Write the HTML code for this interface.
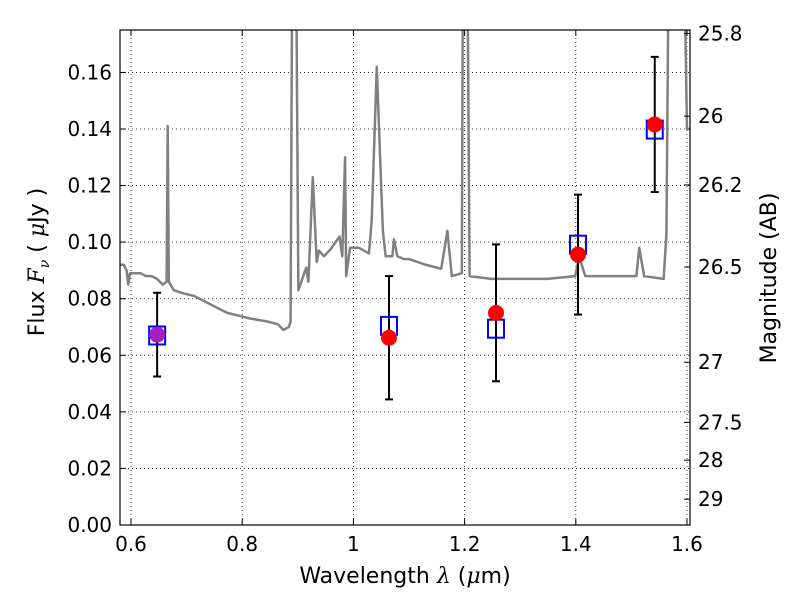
<!DOCTYPE html>
<html><head><meta charset="utf-8"><style>
body{margin:0;background:#fff;font-family:"DejaVu Sans","Liberation Sans",sans-serif}
svg text{font-family:"DejaVu Sans","Liberation Sans",sans-serif;fill:#000}
</style></head><body>
<svg id="c" width="800" height="600" xmlns="http://www.w3.org/2000/svg"></svg>
<script>
const specLam=[0.580,0.587,0.592,0.595,0.598,0.607,0.617,0.627,0.637,0.647,0.657,0.664,0.666,0.668,0.677,0.692,0.713,0.733,0.753,0.773,0.794,0.814,0.844,0.864,0.874,0.884,0.887,0.890,0.897,0.901,0.915,0.919,0.927,0.934,0.938,0.947,0.952,0.961,0.975,0.980,0.985,0.987,0.994,1.010,1.028,1.033,1.042,1.053,1.058,1.070,1.073,1.079,1.091,1.100,1.130,1.158,1.169,1.177,1.195,1.197,1.200,1.205,1.209,1.248,1.298,1.349,1.399,1.404,1.409,1.417,1.460,1.509,1.514,1.523,1.558,1.563,1.567,1.595,1.600,1.605];
const specFlux=[0.092,0.092,0.090,0.085,0.089,0.089,0.089,0.088,0.088,0.087,0.085,0.086,0.141,0.086,0.083,0.082,0.081,0.079,0.077,0.075,0.074,0.073,0.072,0.071,0.069,0.070,0.072,0.2,0.2,0.083,0.091,0.086,0.123,0.093,0.097,0.095,0.096,0.098,0.102,0.095,0.130,0.088,0.098,0.098,0.096,0.108,0.162,0.104,0.095,0.095,0.101,0.095,0.094,0.094,0.092,0.0906,0.104,0.088,0.089,0.2,0.2,0.2,0.088,0.087,0.087,0.087,0.088,0.093,0.093,0.088,0.088,0.088,0.098,0.088,0.087,0.103,0.2,0.2,0.140,0.140];
const obsLam=[0.647,1.064,1.2565,1.404,1.542];
const obsFlux=[0.0673,0.0662,0.075,0.0956,0.1416];
const obsErr=[0.0148,0.0218,0.0242,0.0212,0.0239];
const modFlux=[0.067,0.0704,0.0694,0.0991,0.1398];
const xTicks=[0.6,0.8,1.0,1.2,1.4,1.6];
const xTickLabels=["0.6","0.8","1","1.2","1.4","1.6"];
const yTicks=[0,0.02,0.04,0.06,0.08,0.10,0.12,0.14,0.16];
const yTickLabels=["0.00","0.02","0.04","0.06","0.08","0.10","0.12","0.14","0.16"];
const magTicks=[25.8,26,26.2,26.5,27,27.5,28,29];
const magTickLabels=["25.8","26","26.2","26.5","27","27.5","28","29"];

const L=120,R=690,T=30,B=525,x0=0.5802,x1=1.6054,y0=0,y1=0.175;
const X=v=>L+(v-x0)/(x1-x0)*(R-L);
const Y=v=>B-(v-y0)/(y1-y0)*(B-T);
const svg=document.getElementById('c');
const NS='http://www.w3.org/2000/svg';
function el(t,a,p){const e=document.createElementNS(NS,t);for(const k in a)e.setAttribute(k,a[k]);(p||svg).appendChild(e);return e;}
const defs=el('defs',{});const cp=el('clipPath',{id:'clip'},defs);el('rect',{x:L,y:T,width:R-L,height:B-T},cp);

xTicks.forEach(v=>{const g=el('line',{x1:X(v),x2:X(v),y1:T,y2:B,stroke:'#000','stroke-width':0.8,'stroke-dasharray':'1,3'});

});
yTicks.forEach(v=>{const g=el('line',{x1:L,x2:R,y1:Y(v),y2:Y(v),stroke:'#000','stroke-width':0.8,'stroke-dasharray':'1,3'});

});

const sp=el('polyline',{points:specLam.map((l,i)=>X(l)+','+Y(specFlux[i])).join(' '),fill:'none',stroke:'#808080','stroke-width':2.5,'clip-path':'url(#clip)','stroke-linejoin':'round'});



obsLam.forEach((l,i)=>{const g=el('g',{stroke:'#000','stroke-width':2});


const a=Y(obsFlux[i]+obsErr[i]),b=Y(obsFlux[i]-obsErr[i]),x=X(l);
el('line',{x1:x,x2:x,y1:a,y2:b},g);el('line',{x1:x-4,x2:x+4,y1:a,y2:a},g);el('line',{x1:x-4,x2:x+4,y1:b,y2:b},g);});
obsLam.forEach((l,i)=>{const s=el('rect',{x:X(l)-8,y:Y(modFlux[i])-9,width:16,height:18,fill:'none',stroke:'#0000ff','stroke-width':2});

});
obsLam.forEach((l,i)=>{const c=el('circle',{cx:X(l),cy:Y(obsFlux[i]),r:8,fill:i==0?'#a020c0':'#ff0000'});

});

const fr=el('rect',{x:L,y:T,width:R-L,height:B-T,fill:'none',stroke:'#000','stroke-width':1.2});



xTicks.forEach((v,i)=>{el('line',{x1:X(v),x2:X(v),y1:B,y2:B-6,stroke:'#000'});el('line',{x1:X(v),x2:X(v),y1:T,y2:T+6,stroke:'#000'});
const t=el('text',{x:X(v),y:B+26,'font-size':20,'text-anchor':'middle'});t.textContent=xTickLabels[i];

});
yTicks.forEach((v,i)=>{el('line',{x1:L,x2:L+6,y1:Y(v),y2:Y(v),stroke:'#000'});
const t=el('text',{x:L-8,y:Y(v)+7,'font-size':20,'text-anchor':'end'});t.textContent=yTickLabels[i];

});
magTicks.forEach((m,i)=>{const f=Math.pow(10,(23.9-m)/2.5);const y=Y(f);
el('line',{x1:R,x2:R-6,y1:y,y2:y,stroke:'#000'});
const t=el('text',{x:R+8,y:y+7,'font-size':20});t.textContent=magTickLabels[i];

});

const xt=el('text',{x:405,y:583,'font-size':22,'text-anchor':'middle'});
xt.innerHTML='Wavelength  <tspan font-family="DejaVu Serif" font-style="italic">λ</tspan> (<tspan font-family="DejaVu Serif" font-style="italic">μ</tspan>m)';


const yt=el('text',{x:0,y:0,'font-size':22,'text-anchor':'middle',transform:'translate(44,262) rotate(-90)'});
yt.innerHTML='Flux  <tspan font-family="DejaVu Serif" font-style="italic">F<tspan font-size="14" dy="5">ν</tspan></tspan><tspan dy="-5">  (  </tspan><tspan font-family="DejaVu Serif" font-style="italic">μ</tspan>Jy )';


const rt=el('text',{x:0,y:0,'font-size':22,'text-anchor':'middle',transform:'translate(776,278) rotate(-90)'});
rt.textContent='Magnitude (AB)';


</script>
</body></html>
